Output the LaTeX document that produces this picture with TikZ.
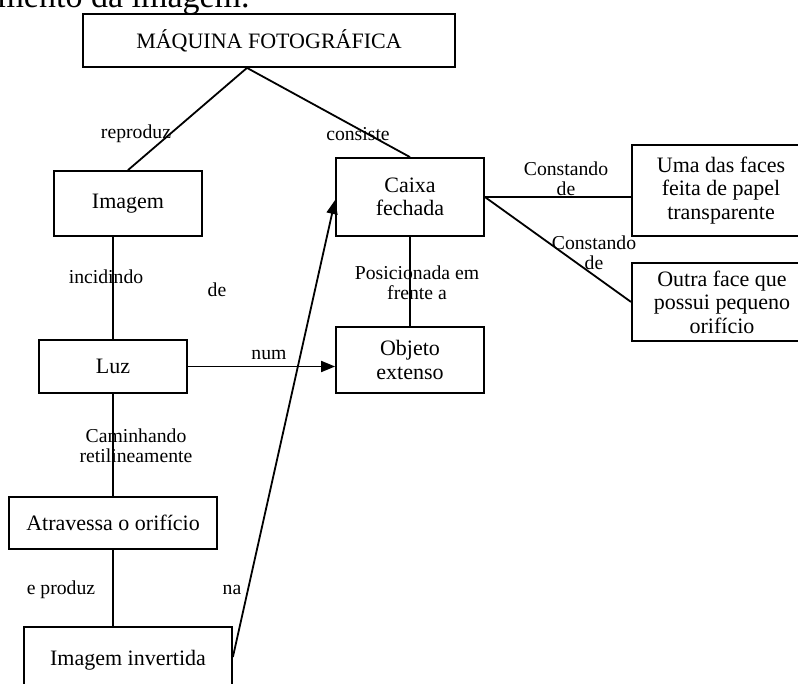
\documentclass[tikz,border=0pt]{standalone}
\usepackage{fontspec}
\setmainfont{Liberation Serif}
\usetikzlibrary{arrows.meta}

\begin{document}
\begin{tikzpicture}[
            x=0.5pt, y=-0.5pt,
            box/.style={draw, line width=0.9pt, inner sep=0pt, align=center,
            font=\fontsize{11}{11.75}\selectfont},
            lbl/.style={inner sep=0pt, align=center,
            font=\fontsize{9.85}{10}\selectfont},
            ln/.style={line width=0.9pt},
            ar/.style={-{Triangle[length=7pt,width=5.5pt]}, line width=0.9pt}
        ]
            \useasboundingbox (0,0) rectangle (798,684);
            \clip (0,0) rectangle (798,684);

% cut-off line of the page text above the map
            \node[anchor=base east, inner sep=0pt, font=\fontsize{17}{18}\selectfont]
                (pagetxt) at (250,8) {mento da imagem.};

% concept boxes
            \node[box, minimum width=186pt, minimum height=26.5pt] (maq)    at (269,40.5) {MÁQUINA FOTOGRÁFICA};
            \node[box, minimum width=74pt,  minimum height=32.5pt] (img)    at (128,203.5) {Imagem};
            \node[box, minimum width=74pt,  minimum height=39pt]   (caixa)  at (410,197) {Caixa\\fechada};
            \node[box, minimum width=89pt,  minimum height=45.5pt] (faceA)  at (721,190.5) {Uma das faces\\feita de papel\\transparente};
            \node[box, minimum width=90pt,  minimum height=39pt]   (faceB)  at (722,302) {Outra face que\\possui pequeno\\orifício};
            \node[box, minimum width=74pt,  minimum height=33pt]   (objeto) at (410,360) {Objeto\\extenso};
            \node[box, minimum width=74pt,  minimum height=26.5pt] (luz)    at (113,366.5) {Luz};
            \node[box, minimum width=104pt, minimum height=26pt]   (atrav)  at (113,523) {Atravessa o orifício};
            \node[box, minimum width=104pt, minimum height=33pt]   (invert) at (128,660) {Imagem invertida};

            \coordinate (maqpt) at ([xshift=-11pt]maq.south);

% connectors
            \draw[ln] (maqpt) -- (img.north);
            \draw[ln] (maqpt) -- (caixa.north);
            \draw[ln] (img.south -| luz.north) -- (luz.north);
            \draw[ar] (luz.east) -- (luz.east -| objeto.west);
            \draw[ln] (luz.south) -- (atrav.north);
            \draw[ln] (atrav.south) -- (atrav.south |- invert.north);
            \draw[ar] ([yshift=1.5pt]invert.east) -- ([yshift=-1.5pt]caixa.west);
            \draw[ln] (caixa.south) -- (objeto.north);
            \draw[ln] (caixa.east) -- (caixa.east -| faceA.west);
            \draw[ln] (caixa.east) -- (faceB.west);

% linking words
            \node[lbl] (reproduz) at (136,134) {reproduz};
            \node[lbl] (consiste) at (358,134) {consiste};
            \node[lbl] (incid)    at (106,277) {incidindo};
            \node[lbl] (de)       at (217,290) {de};
            \node[lbl] (num)      at (269,355) {num};
            \node[lbl] (posic)    at (417,283) {Posicionada em\\frente a};
            \node[lbl] (const1)   at (566,179) {Constando\\de};
            \node[lbl] (const2)   at (594,253) {Constando\\de};
            \node[lbl] (camin)    at (136,446) {Caminhando\\retilineamente};
            \node[lbl] (eproduz)  at (61,590) {e produz};
            \node[lbl] (na)       at (232,590) {na};
        \end{tikzpicture}
\end{document}
